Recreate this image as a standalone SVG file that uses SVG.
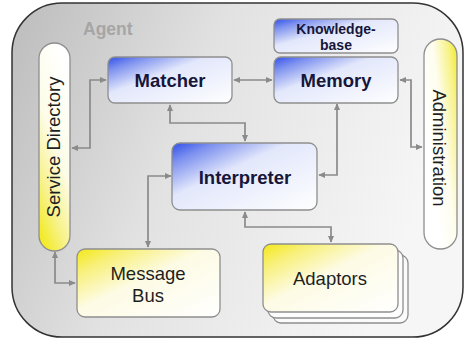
<svg xmlns="http://www.w3.org/2000/svg" width="465" height="341" viewBox="0 0 465 341">
<style>
.box{stroke:#8e8e8e;stroke-width:1.3}
.lbl{font-family:"Liberation Sans",Arial,sans-serif;font-weight:bold;fill:#16163a;text-anchor:middle}
.reg{font-family:"Liberation Sans",Arial,sans-serif;fill:#1e1e1e;text-anchor:middle}
.con{fill:none;stroke:#8a8a8a;stroke-width:1.7;marker-start:url(#ah);marker-end:url(#ah)}
</style>
<defs>
<linearGradient id="bg" x1="0" y1="0" x2="1" y2="0.3">
<stop offset="0" stop-color="#bcbcbc"/>
<stop offset="0.45" stop-color="#e2e2e2"/>
<stop offset="1" stop-color="#f6f6f6"/>
</linearGradient>
<linearGradient id="blue" x1="0" y1="0" x2="1" y2="1">
<stop offset="0" stop-color="#2f4fe8"/>
<stop offset="0.15" stop-color="#7d91ef"/>
<stop offset="0.4" stop-color="#e2e7fb"/>
<stop offset="1" stop-color="#ffffff"/>
</linearGradient>
<linearGradient id="yel" x1="0" y1="0" x2="1" y2="1">
<stop offset="0" stop-color="#f4e816"/>
<stop offset="0.18" stop-color="#f8f07a"/>
<stop offset="0.45" stop-color="#fdfbe4"/>
<stop offset="1" stop-color="#ffffff"/>
</linearGradient>
<linearGradient id="sd" x1="0.2" y1="1" x2="0.6" y2="0">
<stop offset="0" stop-color="#f2ea20"/>
<stop offset="0.25" stop-color="#f7f28a"/>
<stop offset="0.55" stop-color="#fdfce8"/>
<stop offset="1" stop-color="#ffffff"/>
</linearGradient>
<linearGradient id="adm" x1="1" y1="0" x2="0.2" y2="0.6">
<stop offset="0" stop-color="#f2ea20"/>
<stop offset="0.25" stop-color="#f8f38c"/>
<stop offset="0.6" stop-color="#fefdee"/>
<stop offset="1" stop-color="#ffffff"/>
</linearGradient>
<marker id="ah" viewBox="0 0 10 10" refX="9" refY="5" markerWidth="7" markerHeight="7" markerUnits="userSpaceOnUse" orient="auto-start-reverse">
<path d="M0,0.5 L10,5 L0,9.5 z" fill="#8a8a8a"/>
</marker>
</defs>

<g id="agent">
<rect x="12" y="3" width="451" height="334" rx="50" fill="url(#bg)" stroke="#333" stroke-width="1.5"/>
<text x="83" y="35" font-family="Liberation Sans,Arial,sans-serif" font-weight="bold" font-size="17.5" fill="#a6a6a6">Agent</text>
</g>

<g id="connectors">
<path class="con" d="M72,148 H90 V80 H106"/>
<path class="con" d="M234,80 H272"/>
<path class="con" d="M170,105 V123 H245 V141"/>
<path class="con" d="M337,104 V175 H319"/>
<path class="con" d="M400,80 H411 V147 H422"/>
<path class="con" d="M171,176 H148 V247"/>
<path class="con" d="M245,212 V227 H331 V242"/>
<path class="con" d="M55,252 V283 H75"/>
</g>

<g id="service-directory">
<rect class="box" x="39" y="43" width="31" height="208" rx="15.5" fill="url(#sd)"/>
<text class="reg" font-size="18.5" transform="translate(60,147) rotate(-90)">Service Directory</text>
</g>

<g id="administration">
<rect class="box" x="424" y="39" width="33" height="210" rx="16.5" fill="url(#adm)"/>
<text class="reg" font-size="18.5" transform="translate(433,148) rotate(90)">Administration</text>
</g>

<g id="matcher">
<rect class="box" x="108" y="57" width="124" height="46" rx="7" fill="url(#blue)"/>
<text class="lbl" x="170" y="87" font-size="18.5">Matcher</text>
</g>

<g id="knowledge-base">
<rect class="box" x="274" y="19" width="124" height="34" rx="6" fill="url(#blue)"/>
<text class="lbl" x="336" y="34" font-size="14">Knowledge-</text>
<text class="lbl" x="336" y="50" font-size="14">base</text>
</g>

<g id="memory">
<rect class="box" x="274" y="57" width="124" height="46" rx="7" fill="url(#blue)"/>
<text class="lbl" x="336" y="87" font-size="18.5">Memory</text>
</g>

<g id="interpreter">
<rect class="box" x="172" y="143" width="145" height="67" rx="8" fill="url(#blue)"/>
<text class="lbl" x="245" y="184" font-size="18.5">Interpreter</text>
</g>

<g id="message-bus">
<rect class="box" x="77" y="249" width="143" height="68" rx="8" fill="url(#yel)"/>
<text class="reg" x="148" y="280" font-size="18.5">Message</text>
<text class="reg" x="148" y="302" font-size="18.5">Bus</text>
</g>

<g id="adaptors">
<rect class="box" x="273" y="255" width="135" height="68" rx="8" fill="#fbfbfb"/>
<rect class="box" x="268" y="250" width="135" height="68" rx="8" fill="#fdfdfd"/>
<rect class="box" x="263" y="244" width="135" height="68" rx="8" fill="url(#yel)"/>
<text class="reg" x="330" y="285" font-size="18.5">Adaptors</text>
</g>
</svg>
